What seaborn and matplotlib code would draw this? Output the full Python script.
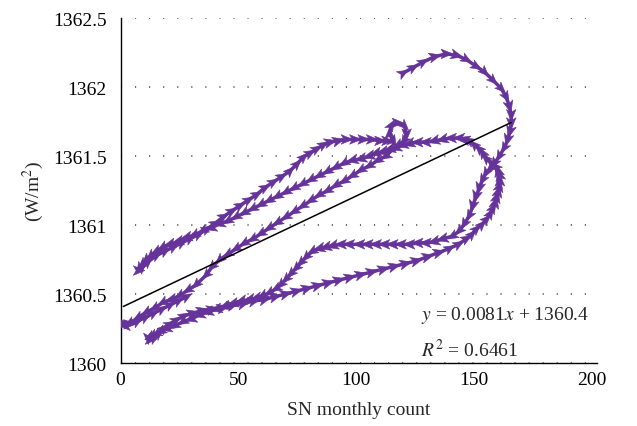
import numpy as np
import pandas as pd
import matplotlib
matplotlib.use("Agg")
import matplotlib.pyplot as plt
from matplotlib.path import Path
from matplotlib.transforms import Affine2D
from matplotlib.ticker import FuncFormatter
import seaborn as sns

# monthly sunspot number vs TSI (path in time order)
sn_count = [
    119.8, 124.1, 128.3, 133.3, 138.2, 142.5, 146.7, 150.9, 154.4, 158.0,
    161.5, 163.6, 165.0, 165.8, 165.8, 165.3, 164.3, 162.9, 160.8, 158.8,
    157.0, 155.2, 153.7, 152.3, 150.9, 149.5, 148.1, 146.0, 143.9, 141.0,
    136.8, 133.2, 129.7, 126.2, 122.7, 119.1, 115.6, 112.1, 108.6, 105.0,
    101.5, 97.2, 93.7, 90.2, 87.3, 84.5, 81.5, 78.9, 76.7, 74.7,
    72.5, 70.4, 68.2, 66.2, 63.3, 60.5, 57.7, 54.9, 51.4, 47.8,
    44.3, 40.8, 37.2, 33.7, 30.1, 26.6, 23.1, 19.6, 17.2, 15.3,
    13.7, 12.5, 11.8, 12.6, 14.2,
    16.0, 18.2, 20.7, 23.5, 26.8, 30.5, 34.5, 38.8, 43.2, 47.5,
    52.0, 56.5, 61.0, 65.5, 70.0, 74.5, 79.0, 83.5, 88.0, 92.5,
    97.2, 101.8, 106.5, 111.4, 116.0, 120.8, 125.5, 130.2, 135.0, 139.6,
    143.4, 146.7, 149.0, 150.9, 153.2, 155.2, 156.8, 158.0, 159.0, 159.6,
    160.3, 160.8, 161.0, 160.8, 160.3, 159.4, 157.3, 155.2, 153.8, 152.3,
    150.2, 148.1, 146.0, 143.9, 140.4, 136.8, 133.2, 129.7, 126.2, 122.7,
    119.8, 117.0,
    114.4, 111.4, 108.5, 105.7, 102.2, 98.6, 95.1, 91.6, 88.0, 84.5,
    81.0, 77.5, 73.9, 70.4, 66.8, 63.3, 59.8, 56.3, 52.7, 49.2,
    45.7, 42.2, 38.6, 35.1, 31.6, 28.1, 24.5, 21.0, 18.0, 15.3,
    13.0, 11.0, 9.5, 8.3, 7.6,
    9.0, 11.5, 15.3, 18.8, 22.4, 25.9, 29.4, 33.0, 36.5, 40.0,
    43.6, 47.1, 50.6, 54.2, 57.7, 61.2, 64.7, 68.3, 71.8, 74.8,
    77.5, 80.3, 83.1, 86.0, 88.8, 92.3, 95.8, 99.4, 102.9, 106.5,
    110.0, 113.0, 115.6,
    114.2, 114.8, 117.4, 120.4, 121.4, 120.4, 117.9, 115.5,
    112.8, 109.3, 105.7, 102.2, 98.6, 95.1, 91.6, 88.0, 84.5, 81.0,
    77.5, 74.0, 70.4, 66.8, 63.3, 59.8, 56.3, 52.7, 49.2, 45.7,
    42.2, 39.0, 36.5, 32.3, 28.8, 25.2, 21.6, 18.1, 14.6, 11.1,
    7.5, 4.0, 2.0, 1.2,
    3.5, 7.0, 10.5, 14.0, 17.5, 21.0, 24.5, 28.0,
]
tsi = [
    1362.10, 1362.14, 1362.18, 1362.22, 1362.24, 1362.23, 1362.20, 1362.15, 1362.11, 1362.05,
    1361.99, 1361.93, 1361.86, 1361.80, 1361.74, 1361.68, 1361.62, 1361.56, 1361.50, 1361.45,
    1361.41, 1361.38, 1361.33, 1361.27, 1361.21, 1361.14, 1361.07, 1361.01, 1360.96, 1360.92,
    1360.90, 1360.88, 1360.87, 1360.87, 1360.86, 1360.86, 1360.86, 1360.86, 1360.86, 1360.86,
    1360.86, 1360.86, 1360.86, 1360.85, 1360.84, 1360.83, 1360.81, 1360.77, 1360.73, 1360.69,
    1360.65, 1360.61, 1360.57, 1360.54, 1360.51, 1360.49, 1360.47, 1360.46, 1360.45, 1360.43,
    1360.41, 1360.39, 1360.37, 1360.35, 1360.32, 1360.30, 1360.27, 1360.25, 1360.23, 1360.21,
    1360.20, 1360.19, 1360.18, 1360.17, 1360.18,
    1360.21, 1360.25, 1360.28, 1360.31, 1360.34, 1360.36, 1360.38, 1360.39, 1360.40, 1360.42,
    1360.43, 1360.45, 1360.46, 1360.48, 1360.50, 1360.52, 1360.54, 1360.56, 1360.58, 1360.60,
    1360.62, 1360.64, 1360.66, 1360.68, 1360.70, 1360.72, 1360.74, 1360.77, 1360.80, 1360.83,
    1360.86, 1360.90, 1360.93, 1360.97, 1361.00, 1361.04, 1361.08, 1361.12, 1361.16, 1361.20,
    1361.24, 1361.28, 1361.32, 1361.36, 1361.39, 1361.42, 1361.45, 1361.48, 1361.52, 1361.55,
    1361.58, 1361.61, 1361.62, 1361.63, 1361.63, 1361.62, 1361.61, 1361.60, 1361.60, 1361.59,
    1361.58, 1361.56,
    1361.55, 1361.53, 1361.52, 1361.50, 1361.48, 1361.47, 1361.45, 1361.42, 1361.39, 1361.36,
    1361.33, 1361.30, 1361.27, 1361.24, 1361.21, 1361.18, 1361.15, 1361.12, 1361.09, 1361.06,
    1361.03, 1361.01, 1360.98, 1360.96, 1360.93, 1360.91, 1360.88, 1360.86, 1360.84, 1360.81,
    1360.78, 1360.75, 1360.72, 1360.69, 1360.67,
    1360.69, 1360.73, 1360.78, 1360.81, 1360.84, 1360.87, 1360.90, 1360.93, 1360.97, 1361.01,
    1361.06, 1361.10, 1361.14, 1361.18, 1361.22, 1361.27, 1361.31, 1361.35, 1361.39, 1361.44,
    1361.49, 1361.52, 1361.55, 1361.58, 1361.60, 1361.61, 1361.62, 1361.62, 1361.62, 1361.62,
    1361.61, 1361.61, 1361.61,
    1361.66, 1361.72, 1361.74, 1361.72, 1361.66, 1361.61, 1361.58, 1361.55,
    1361.50, 1361.47, 1361.43, 1361.40, 1361.36, 1361.32, 1361.29, 1361.25, 1361.22, 1361.18,
    1361.14, 1361.10, 1361.06, 1361.02, 1360.98, 1360.94, 1360.90, 1360.87, 1360.83, 1360.79,
    1360.75, 1360.70, 1360.64, 1360.57, 1360.53, 1360.49, 1360.46, 1360.44, 1360.40, 1360.37,
    1360.33, 1360.29, 1360.27, 1360.29,
    1360.28, 1360.30, 1360.33, 1360.36, 1360.39, 1360.42, 1360.45, 1360.48,
]

# linear fit printed on the chart
fit_slope = 0.0081
fit_intercept = 1360.4
fit_text = "$y$ = 0.0081$x$ + 1360.4"
r2_text = "$R^2$ = 0.6461"
xlabel = "SN monthly count"
ylabel = "(W/m$^2$)"
purple = "#66339a"

sns.set_theme(style="white")
plt.rcParams["font.family"] = ["Liberation Serif", "DejaVu Serif"]
plt.rcParams["mathtext.fontset"] = "stix"

df = pd.DataFrame({"sn": sn_count, "tsi": tsi})

# marker direction follows the path (in screen proportions)
dx = np.gradient(df["sn"].to_numpy() * 2.356)
dy = np.gradient(df["tsi"].to_numpy() * 138.0)
ang = np.degrees(np.arctan2(dy, dx))
df["dir"] = (np.round(ang / 15).astype(int) * 15) % 360

arrow = Path([(1, 0), (-0.8, 0.75), (-0.35, 0), (-0.8, -0.75), (1, 0)],
             [Path.MOVETO, Path.LINETO, Path.LINETO, Path.LINETO, Path.CLOSEPOLY])
marker_map = {a: Affine2D().rotate_deg(a).transform_path(arrow) for a in range(0, 360, 15)}

fit_x = np.array([df["sn"].min(), df["sn"].max()])
fit_df = pd.DataFrame({"sn": fit_x, "tsi": fit_intercept + fit_slope * fit_x})

fig = plt.figure(figsize=(6.37, 4.27), dpi=100)
ax = fig.add_axes([0.1892, 0.1475, 0.748, 0.808])

sns.lineplot(data=df, x="sn", y="tsi", sort=False, estimator=None,
             color=purple, lw=2.5, ax=ax, zorder=2)
sns.scatterplot(data=df, x="sn", y="tsi", style="dir", markers=marker_map,
                s=85, color=purple, edgecolor=purple, linewidth=0.4,
                legend=False, ax=ax, zorder=3)
sns.lineplot(data=fit_df, x="sn", y="tsi", color="black", lw=1.1,
             ax=ax, zorder=4)

ax.set_xlim(0, 202.2)
ax.set_ylim(1360, 1362.5)
ax.set_xticks([0, 50, 100, 150, 200])
ax.set_yticks([1360, 1360.5, 1361, 1361.5, 1362, 1362.5])
ax.yaxis.set_major_formatter(FuncFormatter(lambda v, p: "%g" % v))
ax.yaxis.grid(True, color="#333333", linestyle=(0, (0.7, 8.5)), linewidth=1.1)
ax.xaxis.grid(False)
ax.tick_params(length=0, labelsize=14, colors="black")
ax.tick_params(axis="y", pad=10)
ax.tick_params(axis="x", pad=6)
for s in ["top", "right"]:
    ax.spines[s].set_visible(False)
for s in ["left", "bottom"]:
    ax.spines[s].set_color("black")
    ax.spines[s].set_linewidth(1.0)

ax.set_xlabel(xlabel, fontsize=14, labelpad=9)
ax.set_ylabel(ylabel, fontsize=14, labelpad=5)

ax.text(127.6, 1360.32, fit_text, fontsize=14, va="baseline", ha="left")
ax.text(127.6, 1360.05, r2_text, fontsize=14, va="baseline", ha="left")

fig.savefig("out.png", dpi=100)
